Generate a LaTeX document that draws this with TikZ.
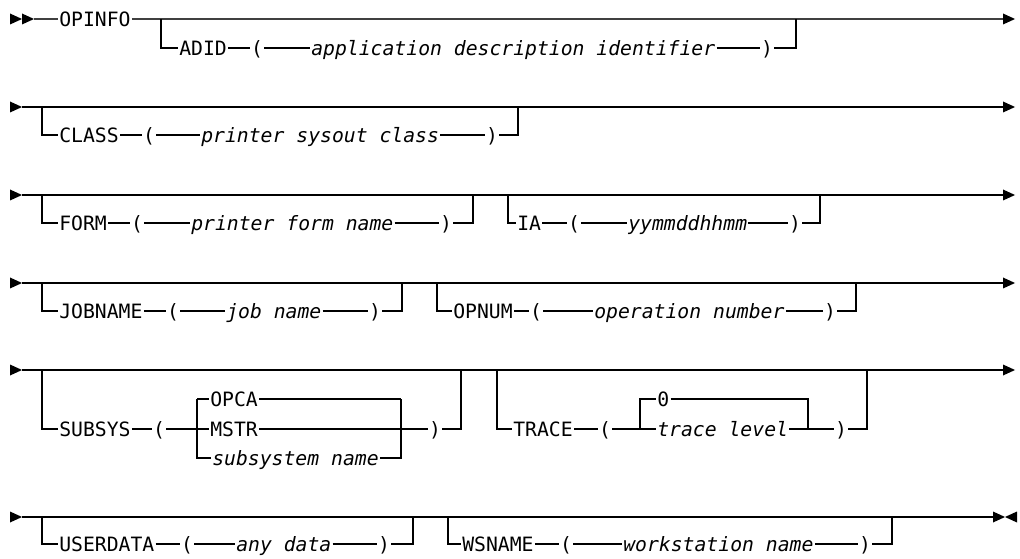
\documentclass[tikz,border=0pt]{standalone}
\usepackage{fontspec}
\setmainfont{DejaVu Sans Mono}[ItalicFont={DejaVu Sans Mono Oblique}]
\usepackage{tikz}

\tikzset{
  kw/.style={inner xsep=0.6pt, inner ysep=0pt, text height=10.8pt, text depth=0pt, anchor=west},
  var/.style={kw, font=\fontsize{14.8}{17}\selectfont\itshape},
  par/.style={kw, anchor=center},
  tri/.pic={\fill (0,-5.5) -- (12,0) -- (0,5.5) -- cycle;}
}

\begin{document}
\begin{tikzpicture}[x=0.75pt, y=-0.75pt, line width=0.8pt, font=\fontsize{14.8}{17}\selectfont]
    \useasboundingbox (0,0) rectangle (1020,559);

    % OPINFO and ADID
    \pic at (10,19) {tri};
    \pic at (22,19) {tri};
    \coordinate (r1s) at (34,19);
    \coordinate (r1a) at (161,19);
    \coordinate (r1b) at (796,19);
    \coordinate (r1e) at (1003,19);
    \node [kw] (opinfo) at (58,19) {OPINFO};
    \node [kw] (adid) at (178,48) {ADID};
    \node [par] (adidl) at (257,48) {(};
    \node [var] (adidv) at (310,48) {application description identifier};
    \node [par] (adidr) at (767,48) {)};
    \draw [black!75, line width=1.1pt] (r1s) -- (opinfo) -- (r1e);
    \pic at (r1e) {tri};
    \draw (r1a) |- (adid) -- (adidl) -- (adidv) -- (adidr) -| (r1b);

    % CLASS
    \pic at (10,107) {tri};
    \coordinate (r2s) at (22,107);
    \coordinate (r2a) at (42,107);
    \coordinate (r2b) at (518,107);
    \coordinate (r2e) at (1003,107);
    \node [kw] (class) at (58,135) {CLASS};
    \node [par] (classl) at (149,135) {(};
    \node [var] (classv) at (200,135) {printer sysout class};
    \node [par] (classr) at (492,135) {)};
    \draw (r2s) -- (r2e);
    \pic at (r2e) {tri};
    \draw (r2a) |- (class) -- (classl) -- (classv) -- (classr) -| (r2b);

    % FORM and IA
    \pic at (10,195) {tri};
    \coordinate (r3s) at (22,195);
    \coordinate (r3a) at (42,195);
    \coordinate (r3b) at (473,195);
    \coordinate (r3c) at (508,195);
    \coordinate (r3d) at (820,195);
    \coordinate (r3e) at (1003,195);
    \node [kw] (form) at (58,223) {FORM};
    \node [par] (forml) at (137,223) {(};
    \node [var] (formv) at (190,223) {printer form name};
    \node [par] (formr) at (446,223) {)};
    \node [kw] (ia) at (516,223) {IA};
    \node [par] (ial) at (574,223) {(};
    \node [var] (iav) at (627,223) {yymmddhhmm};
    \node [par] (iar) at (795,223) {)};
    \draw (r3s) -- (r3e);
    \pic at (r3e) {tri};
    \draw (r3a) |- (form) -- (forml) -- (formv) -- (formr) -| (r3b);
    \draw (r3c) |- (ia) -- (ial) -- (iav) -- (iar) -| (r3d);

    % JOBNAME and OPNUM
    \pic at (10,283) {tri};
    \coordinate (r4s) at (22,283);
    \coordinate (r4a) at (42,283);
    \coordinate (r4b) at (402,283);
    \coordinate (r4c) at (437,283);
    \coordinate (r4d) at (856,283);
    \coordinate (r4e) at (1003,283);
    \node [kw] (jobname) at (58,311) {JOBNAME};
    \node [par] (jobl) at (173,311) {(};
    \node [var] (jobv) at (225,311) {job name};
    \node [par] (jobr) at (375,311) {)};
    \node [kw] (opnum) at (452,311) {OPNUM};
    \node [par] (opnuml) at (536,311) {(};
    \node [var] (opnumv) at (593,311) {operation number};
    \node [par] (opnumr) at (830,311) {)};
    \draw (r4s) -- (r4e);
    \pic at (r4e) {tri};
    \draw (r4a) |- (jobname) -- (jobl) -- (jobv) -- (jobr) -| (r4b);
    \draw (r4c) |- (opnum) -- (opnuml) -- (opnumv) -- (opnumr) -| (r4d);

    % SUBSYS and TRACE
    \pic at (10,370) {tri};
    \coordinate (r5s) at (22,370);
    \coordinate (r5a) at (42,370);
    \coordinate (r5b) at (461,370);
    \coordinate (r5c) at (497,370);
    \coordinate (r5d) at (867,370);
    \coordinate (r5e) at (1003,370);
    \coordinate (s1t) at (197,399);
    \coordinate (s1b) at (197,458);
    \coordinate (s2t) at (401,399);
    \coordinate (s2b) at (401,458);
    \coordinate (t1b) at (640,429);
    \coordinate (t2b) at (808,429);
    \node [kw] (subsys) at (58,429) {SUBSYS};
    \node [par] (subsysl) at (159,429) {(};
    \node [kw] (opca) at (209,399) {OPCA};
    \node [kw] (mstr) at (209,429) {MSTR};
    \node [var] (subsysv) at (211,458) {subsystem name};
    \node [par] (subsysr) at (435,429) {)};
    \node [kw] (trace) at (512,429) {TRACE};
    \node [par] (tracel) at (605,429) {(};
    \node [kw] (zero) at (656,399) {0};
    \node [var] (tracev) at (656,429) {trace level};
    \node [par] (tracer) at (841,429) {)};
    \draw (r5s) -- (r5e);
    \pic at (r5e) {tri};
    \draw (r5a) |- (subsys) -- (subsysl) -- (mstr) -- (subsysr) -| (r5b);
    \draw (s1t) -- (opca) -- (s2t);
    \draw (s1t) -- (s1b) -- (subsysv) -- (s2b) -- (s2t);
    \draw (r5c) |- (trace) -- (tracel) -- (tracev) -- (tracer) -| (r5d);
    \draw (t1b) |- (zero) -| (t2b);

    % USERDATA and WSNAME
    \pic at (10,517) {tri};
    \coordinate (r6s) at (22,517);
    \coordinate (r6a) at (42,517);
    \coordinate (r6b) at (413,517);
    \coordinate (r6c) at (448,517);
    \coordinate (r6d) at (892,517);
    \coordinate (r6e) at (993,517);
    \node [kw] (userdata) at (58,544) {USERDATA};
    \node [par] (userl) at (187,544) {(};
    \node [var] (userv) at (235,544) {any data};
    \node [par] (userr) at (384,544) {)};
    \node [kw] (wsname) at (461,544) {WSNAME};
    \node [par] (wsl) at (566,544) {(};
    \node [var] (wsv) at (622,544) {workstation name};
    \node [par] (wsr) at (865,544) {)};
    \draw (r6s) -- (r6e);
    \pic at (r6e) {tri};
    \pic [xscale=-1] at (1017,517) {tri};
    \draw (r6a) |- (userdata) -- (userl) -- (userv) -- (userr) -| (r6b);
    \draw (r6c) |- (wsname) -- (wsl) -- (wsv) -- (wsr) -| (r6d);
\end{tikzpicture}
\end{document}
